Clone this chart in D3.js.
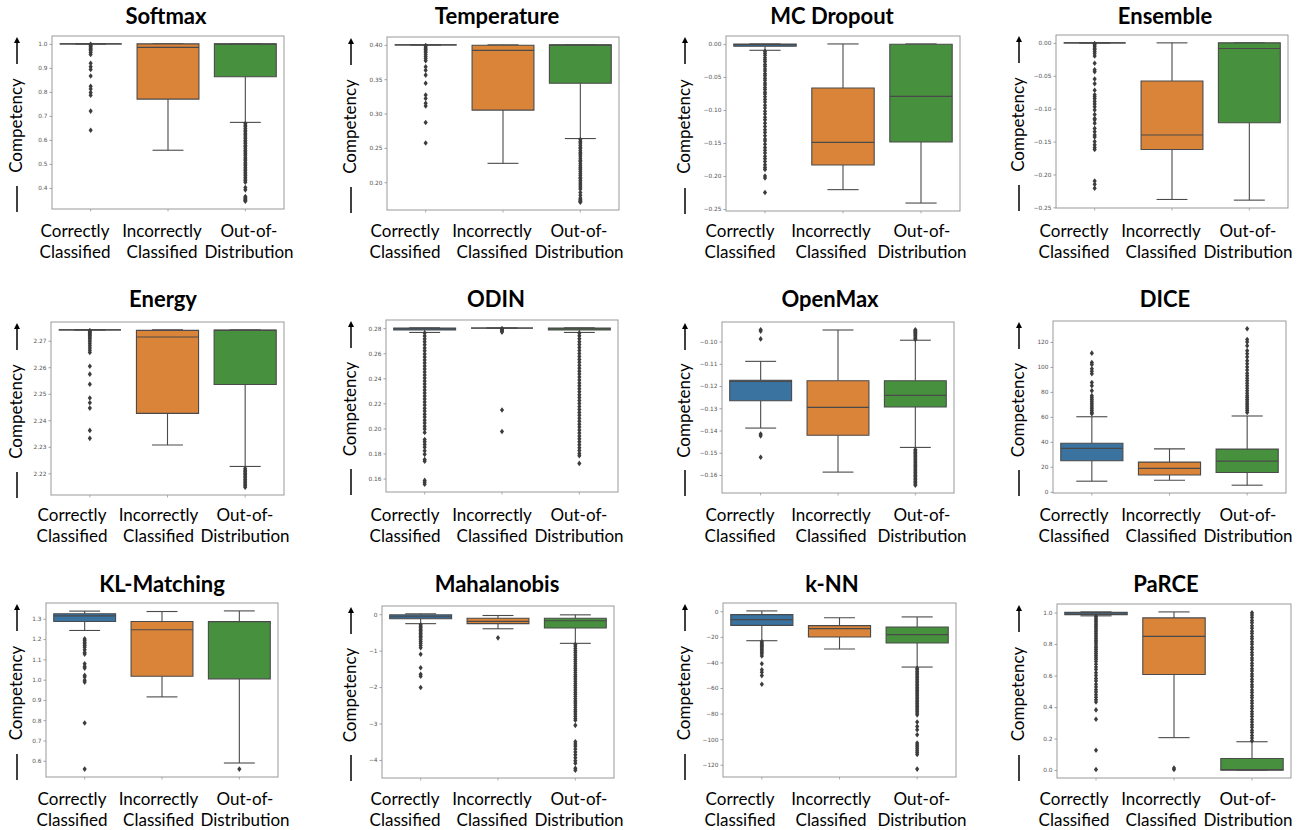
<!DOCTYPE html>
<html>
<head>
<meta charset="utf-8">
<script src="https://cdn.jsdelivr.net/npm/d3@7"></script>
<style>
  body { margin: 0; background: #fff; }
  svg { display: block; font-family: Lato, "Open Sans", sans-serif; }
</style>
</head>
<body>
<svg id="chart" width="1307" height="830"></svg>
<script>
// ---- data -------------------------------------------------------------
const categories = ["Correctly Classified", "Incorrectly Classified", "Out-of-Distribution"];
const categoryLines = [["Correctly", "Classified"], ["Incorrectly", "Classified"], ["Out-of-", "Distribution"]];
const methods = ["Softmax", "Temperature", "MC Dropout", "Ensemble", "Energy", "ODIN",
                 "OpenMax", "DICE", "KL-Matching", "Mahalanobis", "k-NN", "PaRCE"];

// box summaries per category: [lower whisker, Q1, median, Q3, upper whisker]
const softmaxBoxes = [[1.0, 1.0, 1.0, 1.0, 1.0], [0.557, 0.770, 0.985, 1.0, 1.0], [0.673, 0.863, 0.999, 1.0, 1.0]];
const softmaxFliers = [
  [0.998, 0.995, 0.991, 0.987, 0.982, 0.977, 0.971, 0.964, 0.956, 0.919, 0.905, 0.893, 0.866, 0.823, 0.812, 0.797, 0.786, 0.72, 0.64],
  [],
  [0.668, 0.661, 0.655, 0.647, 0.64, 0.634, 0.626, 0.62, 0.612, 0.606, 0.598, 0.591, 0.585, 0.577, 0.571, 0.563, 0.556, 0.55, 0.542, 0.536,
   0.528, 0.521, 0.515, 0.507, 0.5, 0.494, 0.486, 0.479, 0.473, 0.465, 0.458, 0.452, 0.444, 0.437, 0.431, 0.424, 0.402, 0.392,
   0.364, 0.359, 0.355, 0.351, 0.348, 0.345]
];
const softmaxTicks = [0.4, 0.5, 0.6, 0.7, 0.8, 0.9, 1.0];

const temperatureBoxes = [[0.40, 0.40, 0.40, 0.40, 0.40], [0.2275, 0.305, 0.392, 0.3995, 0.40], [0.2636, 0.344, 0.3995, 0.40, 0.40]];
const temperatureFliers = [
  [0.399, 0.397, 0.395, 0.393, 0.391, 0.389, 0.386, 0.383, 0.38, 0.377, 0.368, 0.363, 0.356, 0.344, 0.327, 0.322, 0.315, 0.311, 0.287, 0.257],
  [],
  [0.262, 0.259, 0.257, 0.254, 0.251, 0.249, 0.246, 0.243, 0.241, 0.238, 0.235, 0.232, 0.23, 0.227, 0.224, 0.221, 0.219, 0.216,
   0.213, 0.21, 0.207, 0.205, 0.202, 0.199, 0.196, 0.193, 0.19, 0.185, 0.181, 0.177, 0.175, 0.173, 0.172, 0.171]
];
const temperatureTicks = [0.20, 0.25, 0.30, 0.35, 0.40];

const mcDropoutBoxes = [[-0.0096, -0.0035, -0.001, 0.0, 0.0], [-0.2207, -0.1833, -0.149, -0.0667, 0.0], [-0.241, -0.1485, -0.0793, -0.0005, 0.0]];
const mcDropoutFliers = [
  [-0.011, -0.014, -0.017, -0.021, -0.024, -0.027, -0.031, -0.034, -0.038, -0.041, -0.045, -0.048, -0.052, -0.055, -0.059, -0.062,
   -0.066, -0.069, -0.073, -0.076, -0.08, -0.084, -0.088, -0.093, -0.097, -0.102, -0.106, -0.111, -0.115, -0.12, -0.125, -0.13,
   -0.134, -0.139, -0.144, -0.147, -0.152, -0.157, -0.161, -0.165, -0.17, -0.174, -0.178, -0.183, -0.187, -0.19, -0.2, -0.203, -0.225],
  [],
  []
];
const mcDropoutTicks = [-0.25, -0.20, -0.15, -0.10, -0.05, 0.00];

const ensembleBoxes = [[0, 0, 0, 0, 0], [-0.238, -0.162, -0.14, -0.058, 0.0], [-0.239, -0.1215, -0.0086, 0.0, 0.0]];
const ensembleFliers = [
  [-0.001, -0.003, -0.005, -0.008, -0.01, -0.013, -0.016, -0.02, -0.031, -0.041, -0.044, -0.055, -0.062, -0.072, -0.079, -0.082,
   -0.085, -0.089, -0.093, -0.097, -0.102, -0.109, -0.115, -0.117, -0.122, -0.13, -0.135, -0.14, -0.143, -0.15, -0.155, -0.159,
   -0.162, -0.21, -0.215, -0.221],
  [],
  []
];
const ensembleTicks = [-0.25, -0.20, -0.15, -0.10, -0.05, 0.00];

const energyBoxes = [[2.2741, 2.2741, 2.2741, 2.2741, 2.2741], [2.2307, 2.2426, 2.2714, 2.2739, 2.2741], [2.2226, 2.2535, 2.2739, 2.274, 2.2741]];
const energyFliers = [
  [2.2738, 2.2735, 2.2731, 2.2727, 2.2723, 2.2719, 2.2714, 2.2709, 2.2703, 2.2696, 2.2689, 2.2681, 2.2673, 2.2664, 2.2656,
   2.2604, 2.2574, 2.2536, 2.2484, 2.2466, 2.2446, 2.2362, 2.2332],
  [],
  [2.2218, 2.2212, 2.2206, 2.22, 2.2195, 2.2189, 2.2183, 2.2177, 2.2171, 2.2165, 2.2159, 2.2153, 2.2148]
];
const energyTicks = [2.22, 2.23, 2.24, 2.25, 2.26, 2.27];

const odinBoxes = [[0.2766, 0.2785, 0.2795, 0.2801, 0.2803], [0.2801, 0.2801, 0.2801, 0.2801, 0.2801], [0.2766, 0.2785, 0.2795, 0.2801, 0.2803]];
const odinFliers = [
  [0.2762, 0.2738, 0.2714, 0.2691, 0.2667, 0.2642, 0.2619, 0.2594, 0.2571, 0.2546, 0.2523, 0.2498, 0.2475, 0.245, 0.2427, 0.2402,
   0.2379, 0.2354, 0.2331, 0.2306, 0.2283, 0.2258, 0.2235, 0.221, 0.2187, 0.2162, 0.2139, 0.2114, 0.2091, 0.2066, 0.2043, 0.2018,
   0.1995, 0.1968, 0.1912, 0.1893, 0.1872, 0.185, 0.1822, 0.1793, 0.1752, 0.1738, 0.1585, 0.157, 0.1555],
  [0.2797, 0.279, 0.2783, 0.2776, 0.2769, 0.2147, 0.1976],
  [0.2762, 0.2739, 0.2716, 0.2692, 0.2669, 0.2645, 0.2622, 0.2598, 0.2575, 0.2551, 0.2528, 0.2504, 0.2481, 0.2457, 0.2434, 0.241,
   0.2387, 0.2363, 0.234, 0.2316, 0.2293, 0.2269, 0.2246, 0.2222, 0.2199, 0.2175, 0.2152, 0.2128, 0.2105, 0.2081, 0.2058, 0.2034,
   0.2011, 0.1987, 0.1964, 0.194, 0.1917, 0.1893, 0.187, 0.1846, 0.1823, 0.1799, 0.1782, 0.1721]
];
const odinTicks = [0.16, 0.18, 0.20, 0.22, 0.24, 0.26, 0.28];

const openMaxBoxes = [[-0.1389, -0.1266, -0.1179, -0.1174, -0.1089], [-0.1587, -0.1421, -0.1296, -0.1176, -0.0948], [-0.1476, -0.1294, -0.1242, -0.1176, -0.0994]];
const openMaxFliers = [
  [-0.0947, -0.0953, -0.0988, -0.1416, -0.1424, -0.152],
  [],
  [-0.0947, -0.0951, -0.0955, -0.0959, -0.0964, -0.0969, -0.0974, -0.0979, -0.0985, -0.099,
   -0.1486, -0.1492, -0.1499, -0.1505, -0.1511, -0.1518, -0.1524, -0.153, -0.1537, -0.1543, -0.155, -0.1556, -0.1563, -0.1569,
   -0.1576, -0.1582, -0.1589, -0.1595, -0.1602, -0.1608, -0.1615, -0.1621, -0.1628, -0.1634, -0.164, -0.1646]
];
const openMaxTicks = [-0.16, -0.15, -0.14, -0.13, -0.12, -0.11, -0.10];

const diceBoxes = [[8.5, 24.9, 34.7, 38.9, 60.1], [9.3, 13.5, 18.8, 23.8, 34.4], [5.3, 15.4, 24.6, 34.2, 60.7]];
const diceFliers = [
  [111, 103.5, 102, 98.5, 96.5, 94.5, 87.5, 85, 81, 77, 75.5, 74, 72.5, 71, 69.5, 68, 66.5, 65, 63.5, 62.5],
  [],
  [130.5, 122, 120, 117, 113, 110.5, 108, 105, 102.5, 100, 97.5, 95, 93, 91, 89, 87, 85, 83, 81, 79, 77, 75.5, 74, 72.5, 71,
   69.5, 68, 66.5, 65, 63.5]
];
const diceTicks = [0, 20, 40, 60, 80, 100, 120];

const klBoxes = [[1.2425, 1.287, 1.315, 1.325, 1.338], [0.915, 1.017, 1.246, 1.287, 1.336], [0.589, 1.004, 1.286, 1.287, 1.339]];
const klFliers = [
  [1.201, 1.193, 1.185, 1.177, 1.169, 1.16, 1.147, 1.134, 1.126, 1.078, 1.065, 1.057, 1.021, 1.013, 0.997, 0.988, 0.786, 0.559],
  [],
  [0.559]
];
const klTicks = [0.6, 0.7, 0.8, 0.9, 1.0, 1.1, 1.2, 1.3];

const mahalanobisBoxes = [[-0.26, -0.127, -0.07, -0.02, 0.01], [-0.4, -0.26, -0.2, -0.11, -0.036], [-0.8, -0.38, -0.18, -0.11, -0.018]];
const mahalanobisFliers = [
  [-0.29, -0.33, -0.37, -0.41, -0.45, -0.49, -0.53, -0.57, -0.61, -0.65, -0.7, -0.75, -0.8, -0.86, -0.92, -1.1, -1.47, -1.65, -1.7, -2.01],
  [-0.65],
  [-0.83, -0.88, -0.94, -1.0, -1.06, -1.12, -1.18, -1.24, -1.3, -1.36, -1.42, -1.48, -1.54, -1.6, -1.66, -1.72, -1.78, -1.84, -1.9,
   -1.96, -2.02, -2.08, -2.14, -2.2, -2.26, -2.32, -2.38, -2.44, -2.5, -2.56, -2.62, -2.68, -2.74, -2.8, -2.86, -2.91, -3.05,
   -3.5, -3.56, -3.62, -3.7, -3.78, -3.86, -3.94, -4.02, -4.09, -4.23, -4.28]
];
const mahalanobisTicks = [-4, -3, -2, -1, 0];

const knnBoxes = [[-23, -11, -6.5, -2.6, 0.3], [-29.5, -20.1, -13.6, -11.2, -5], [-43.6, -24.8, -18.3, -12.3, -4.4]];
const knnFliers = [
  [-23.8, -24.8, -25.8, -26.8, -27.8, -28.8, -29.8, -31, -32.2, -33.4, -35, -41, -45.7, -47.7, -50.3, -57],
  [],
  [-44.5, -45.7, -47, -48.2, -49.5, -50.7, -52, -53.2, -54.5, -55.7, -57, -58.2, -59.5, -60.7, -62, -63.2, -64.5, -65.7, -67,
   -68.2, -69.5, -70.7, -72, -73.2, -74.5, -75.7, -77, -78.2, -79.5, -81, -86.6, -90, -92.6, -96.5, -103, -104.5, -106, -107.5,
   -109, -110.5, -112, -123.4]
];
const knnTicks = [-120, -100, -80, -60, -40, -20, 0];

const parceBoxes = [[0.979, 0.987, 0.998, 1.002, 1.004], [0.206, 0.607, 0.849, 0.966, 1.004], [0.0, 0.0, 0.003, 0.0735, 0.18]];
const parceFliers = [
  [0.976, 0.966, 0.955, 0.944, 0.933, 0.922, 0.911, 0.9, 0.889, 0.878, 0.867, 0.856, 0.845, 0.834, 0.823, 0.812, 0.8, 0.788,
   0.776, 0.764, 0.752, 0.74, 0.728, 0.716, 0.704, 0.69, 0.672, 0.654, 0.638, 0.618, 0.6, 0.582, 0.566, 0.545, 0.528, 0.51,
   0.495, 0.478, 0.462, 0.447, 0.432, 0.382, 0.323, 0.126, 0.004],
  [0.013, 0.004],
  [0.186, 0.204, 0.219, 0.238, 0.253, 0.272, 0.287, 0.306, 0.321, 0.34, 0.356, 0.372, 0.391, 0.406, 0.425, 0.44, 0.459, 0.474,
   0.493, 0.508, 0.527, 0.542, 0.561, 0.576, 0.595, 0.61, 0.629, 0.644, 0.663, 0.678, 0.697, 0.712, 0.731, 0.746, 0.765, 0.78,
   0.799, 0.814, 0.833, 0.848, 0.867, 0.882, 0.901, 0.916, 0.935, 0.95, 0.969, 0.984, 0.998]
];
const parceTicks = [0.0, 0.2, 0.4, 0.6, 0.8, 1.0];

const panelBoxes = [softmaxBoxes, temperatureBoxes, mcDropoutBoxes, ensembleBoxes, energyBoxes, odinBoxes,
                    openMaxBoxes, diceBoxes, klBoxes, mahalanobisBoxes, knnBoxes, parceBoxes];
const panelFliers = [softmaxFliers, temperatureFliers, mcDropoutFliers, ensembleFliers, energyFliers, odinFliers,
                     openMaxFliers, diceFliers, klFliers, mahalanobisFliers, knnFliers, parceFliers];
const panelTicks = [softmaxTicks, temperatureTicks, mcDropoutTicks, ensembleTicks, energyTicks, odinTicks,
                    openMaxTicks, diceTicks, klTicks, mahalanobisTicks, knnTicks, parceTicks];
const tickFormats = [".1f", ".2f", ".2f", ".2f", ".2f", ".2f", ".2f", "d", ".1f", "d", "d", ".1f"];

// ---- layout -----------------------------------------------------------
// plot frame per panel: [left, top, right, bottom]
const frames = [
  [52, 36, 284, 209], [387, 37, 619, 210], [726, 36, 960, 211], [1056, 35, 1288, 208],
  [51, 322, 284, 495], [386, 320, 618, 492], [722, 322, 954, 493], [1053, 321, 1286, 493],
  [46, 603, 278, 777], [382, 606, 614, 778], [723, 603, 956, 777], [1057, 604, 1291, 778]
];
// centres of first and last category caption per panel
const captionSpan = [
  [75, 249], [405, 579], [740, 922], [1074, 1248],
  [72, 245], [405, 579], [740, 922], [1074, 1248],
  [72, 245], [405, 579], [740, 922], [1074, 1248]
];
const titleX = [166, 497, 832, 1165, 163, 496, 830, 1165, 162, 497, 832, 1166];
const titleBaseline = [24, 307, 592];
const captionBaselines = [[237, 258], [521, 542], [805, 826]];
const yLabelX = [16, 350, 684, 1018];

const boxColors = ["#3a72a0", "#da843a", "#46903e"];
const lineColor = "#4a4a4a";

const svg = d3.select("#chart");

methods.forEach((name, i) => {
  const [x0, y0, x1, y1] = frames[i];
  const row = Math.floor(i / 4), col = i % 4;
  const boxes = panelBoxes[i], fliers = panelFliers[i];
  const g = svg.append("g").attr("class", "panel");

  const x = d3.scaleBand().domain(categories).range([x0, x1]).paddingInner(0.2).paddingOuter(0.1);
  const [mn, mx] = d3.extent(boxes.flat().concat(fliers.flat()));
  const pad = (mx - mn) * 0.05;
  const y = d3.scaleLinear().domain([mn - pad, mx + pad]).range([y1, y0]);

  // y axis
  const yAxis = g.append("g")
    .attr("transform", `translate(${x0},0)`)
    .call(d3.axisLeft(y).tickValues(panelTicks[i]).tickFormat(d3.format(tickFormats[i])).tickSize(2.5).tickPadding(2));
  yAxis.select(".domain").remove();
  yAxis.selectAll(".tick line").attr("stroke", "#888").attr("stroke-width", 0.8);
  yAxis.selectAll(".tick text").attr("fill", "#555").attr("font-size", 5.8)
    .attr("font-family", "DejaVu Sans, sans-serif");

  // x axis tick marks
  const xAxis = g.append("g")
    .attr("transform", `translate(0,${y1})`)
    .call(d3.axisBottom(x).tickSize(2.5).tickFormat(""));
  xAxis.select(".domain").remove();
  xAxis.selectAll(".tick line").attr("stroke", "#999").attr("stroke-width", 0.8);

  // boxes, whiskers, medians, fliers
  categories.forEach((cat, j) => {
    const [lo, q1, med, q3, hi] = boxes[j];
    const bx = x(cat), bw = x.bandwidth(), cx = bx + bw / 2;
    const bg = g.append("g");
    bg.append("line").attr("x1", cx).attr("x2", cx).attr("y1", y(q1)).attr("y2", y(lo))
      .attr("stroke", lineColor).attr("stroke-width", 1.1);
    bg.append("line").attr("x1", cx).attr("x2", cx).attr("y1", y(q3)).attr("y2", y(hi))
      .attr("stroke", lineColor).attr("stroke-width", 1.1);
    [lo, hi].forEach(v => {
      bg.append("line").attr("x1", cx - bw / 4).attr("x2", cx + bw / 4).attr("y1", y(v)).attr("y2", y(v))
        .attr("stroke", lineColor).attr("stroke-width", 1.1);
    });
    bg.append("path")
      .attr("d", `M${bx},${y(q3)}H${bx + bw}V${y(q1)}H${bx}Z`)
      .attr("fill", boxColors[j]).attr("stroke", lineColor).attr("stroke-width", 1.1);
    bg.append("line").attr("x1", bx).attr("x2", bx + bw).attr("y1", y(med)).attr("y2", y(med))
      .attr("stroke", lineColor).attr("stroke-width", 1.2);
    bg.selectAll("path.flier").data(fliers[j]).join("path")
      .attr("class", "flier")
      .attr("transform", d => `translate(${cx},${y(d)})`)
      .attr("d", "M0,-2.8L2.1,0L0,2.8L-2.1,0Z")
      .attr("fill", "#3d3d3d");
  });

  // frame
  g.append("rect").attr("x", x0).attr("y", y0).attr("width", x1 - x0).attr("height", y1 - y0)
    .attr("fill", "none").attr("stroke", "#999").attr("stroke-width", 1);

  // title
  g.append("text").attr("x", titleX[i]).attr("y", titleBaseline[row])
    .attr("text-anchor", "middle").attr("font-size", 22).attr("font-weight", 700).attr("fill", "#000")
    .text(name);

  // category captions
  const cap = d3.scalePoint().domain(categories).range(captionSpan[i]);
  categories.forEach((cat, j) => {
    categoryLines[j].forEach((line, k) => {
      g.append("text").attr("x", cap(cat)).attr("y", captionBaselines[row][k])
        .attr("text-anchor", "middle").attr("font-size", 17).attr("fill", "#000").text(line);
    });
  });

  // y label with direction arrow
  const lx = yLabelX[col], midY = (y0 + y1) / 2 + 3;
  g.append("text").attr("transform", `translate(${lx + 6},${midY}) rotate(-90)`)
    .attr("text-anchor", "middle").attr("font-size", 17).attr("fill", "#000").text("Competency");
  g.append("line").attr("x1", lx + 1).attr("x2", lx + 1).attr("y1", y0 + 28).attr("y2", y0 + 5)
    .attr("stroke", "#000").attr("stroke-width", 1.5);
  g.append("path").attr("d", `M${lx + 1},${y0 + 1}L${lx + 4},${y0 + 7}L${lx - 2},${y0 + 7}Z`).attr("fill", "#000");
  g.append("line").attr("x1", lx + 1).attr("x2", lx + 1).attr("y1", y1 - 23).attr("y2", y1 + 3)
    .attr("stroke", "#000").attr("stroke-width", 1.5);
});
</script>
</body>
</html>
